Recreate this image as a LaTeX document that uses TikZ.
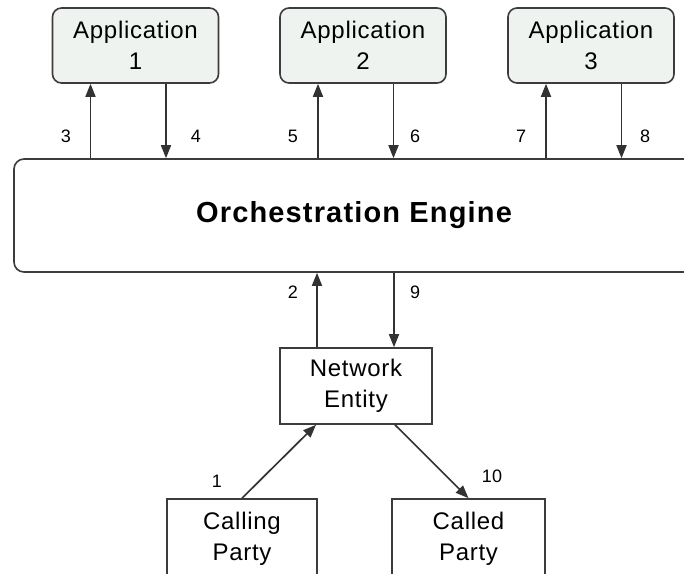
\documentclass[tikz,border=0pt]{standalone}
\usepackage{fontspec}
\setmainfont{Liberation Sans}
\usetikzlibrary{arrows.meta,calc}
\definecolor{appfill}{RGB}{239,243,240}
\definecolor{linegray}{RGB}{50,50,50}
\definecolor{boxgray}{RGB}{60,60,60}
\newfontfamily\lblfont[LetterSpace=2]{Liberation Sans}
\newfontfamily\boxfont[LetterSpace=3]{Liberation Sans}
\newfontfamily\engfont[LetterSpace=4]{Liberation Sans Bold}
\begin{document}
\begin{tikzpicture}[x=1pt,y=-1pt,
  appbox/.style={draw=boxgray,line width=1.6pt,fill=appfill,rounded corners=9pt,
    minimum width=166pt,minimum height=75pt,align=center,inner sep=0pt,
    font=\boxfont\fontsize{24}{31}\selectfont},
  plainbox/.style={draw=boxgray,line width=1.6pt,fill=white,
    minimum width=152pt,minimum height=76pt,align=center,inner sep=0pt,
    font=\boxfont\fontsize{24}{31}\selectfont},
  engbox/.style={draw=boxgray,line width=1.6pt,fill=white,rounded corners=10pt,
    minimum width=680pt,minimum height=113pt,inner sep=0pt,
    font=\engfont\fontsize{29}{34}\selectfont},
  conn/.style={draw=linegray,line width=1.7pt,-{Triangle[length=13pt,width=10pt]}},
  lbl/.style={inner sep=0pt,font=\lblfont\fontsize{18}{20}\selectfont}
]
\useasboundingbox (0,0) rectangle (684,573);

\node[appbox] (app1) at (135.5,45.5) {Application\\1};
\node[appbox] (app2) at (363,45.5) {Application\\2};
\node[appbox] (app3) at (591,45.5) {Application\\3};

\node[engbox] (eng) at (354,215.5) {Orchestration Engine};

\node[plainbox] (net) at (356,386) {Network\\Entity};
\node[plainbox,minimum width=150pt,minimum height=80pt] (calling) at (242,539) {Calling\\Party};
\node[plainbox,minimum width=153pt,minimum height=80pt] (called) at (468.5,539) {Called\\Party};

% application arrows
\foreach \a in {app1,app2,app3}{
  \draw[conn] ([xshift=-45pt]\a.south |- eng.north) -- ([xshift=-45pt]\a.south);
  \draw[conn] ([xshift=30.5pt]\a.south) -- ([xshift=30.5pt]\a.south |- eng.north);
}
% engine <-> network entity
\draw[conn] ([xshift=-39pt]net.north) -- ([xshift=-39pt]net.north |- eng.south);
\draw[conn] ([xshift=38pt]net.north |- eng.south) -- ([xshift=38pt]net.north);
% parties
\draw[conn] (calling.north) -- ([xshift=-40pt]net.south);
\draw[conn] ([xshift=39pt]net.south) -- (called.north);

% labels
\node[lbl] (l3) at (66,136) {3};
\node[lbl] (l4) at (196,136) {4};
\node[lbl] (l5) at (293,136) {5};
\node[lbl] (l6) at (415,136) {6};
\node[lbl] (l7) at (521,136) {7};
\node[lbl] (l8) at (645,136) {8};
\node[lbl] (l2) at (293,292) {2};
\node[lbl] (l9) at (415,292) {9};
\node[lbl] (l1) at (217,481) {1};
\node[lbl] (l10) at (492,476) {10};
\end{tikzpicture}
\end{document}
